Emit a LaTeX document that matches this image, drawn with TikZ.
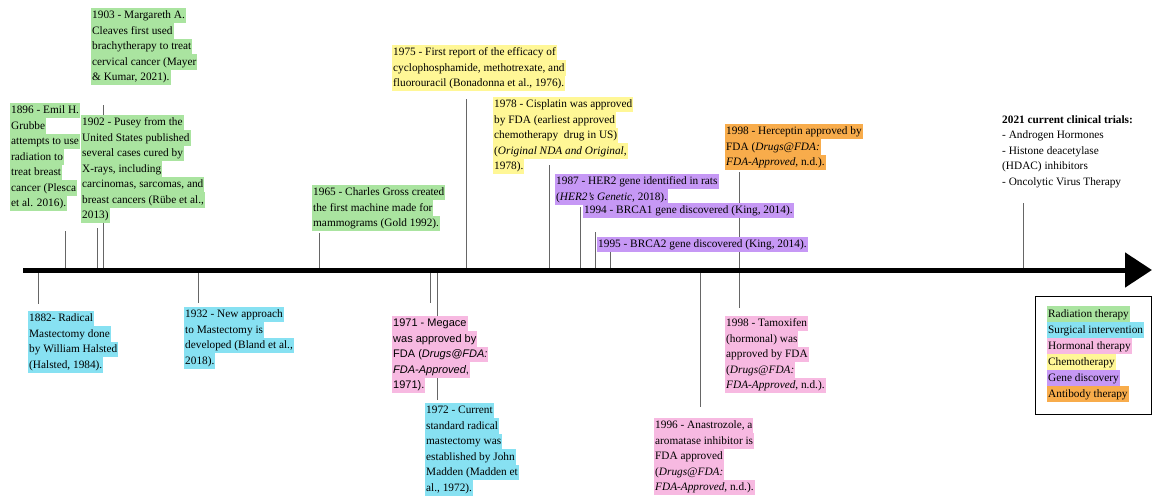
\documentclass[tikz,border=0pt]{standalone}
\usepackage{fontspec}
\setmainfont{Liberation Serif}
\newfontfamily\arialfont{Liberation Sans}
\usetikzlibrary{arrows.meta}

\definecolor{radgreen}{RGB}{170,228,160}
\definecolor{surgcyan}{RGB}{135,225,242}
\definecolor{hormpink}{RGB}{247,185,225}
\definecolor{chemoyellow}{RGB}{255,247,150}
\definecolor{genepurple}{RGB}{198,152,245}
\definecolor{antiorange}{RGB}{248,172,75}

\newcommand{\hilite}[2]{{\setlength{\fboxsep}{0pt}\colorbox{#1}{\rule[-4.6pt]{0pt}{15.5pt}\kern1pt#2\kern1pt}}}
\newcommand{\rad}[1]{\hilite{radgreen}{#1}}
\newcommand{\surg}[1]{\hilite{surgcyan}{#1}}
\newcommand{\horm}[1]{\hilite{hormpink}{#1}}
\newcommand{\chemo}[1]{\hilite{chemoyellow}{#1}}
\newcommand{\gene}[1]{\hilite{genepurple}{#1}}
\newcommand{\anti}[1]{\hilite{antiorange}{#1}}

\begin{document}
\begin{tikzpicture}[x=1pt,y=-1pt,
	tick/.style={draw=black!60,line width=0.8pt},
	event/.style={anchor=north west,inner sep=0pt,align=left,font=\fontsize{11.3}{15.5}\selectfont}]
\useasboundingbox (0,0) rectangle (1154,497);
\begin{scope}
		\coordinate (A1896) at (65,270);
		\coordinate (B1896) at (65,231);
		\coordinate (A1902) at (97,270);
		\coordinate (B1902) at (97,228);
		\coordinate (A1903) at (103,270);
		\coordinate (B1903) at (103,105);
		\coordinate (A1965) at (319,270);
		\coordinate (B1965) at (319,233);
		\coordinate (A1975) at (466,270);
		\coordinate (B1975) at (466,99);
		\coordinate (A1978) at (549,270);
		\coordinate (B1978) at (549,165);
		\coordinate (A1987) at (580,270);
		\coordinate (B1987) at (580,207);
		\coordinate (A1994) at (595,270);
		\coordinate (B1994) at (595,232);
		\coordinate (A1995) at (610,270);
		\coordinate (B1995) at (610,252);
		\coordinate (AHer) at (739,270);
		\coordinate (BHer) at (739,172);
		\coordinate (A2021) at (1023,270);
		\coordinate (B2021) at (1023,203);
		\draw[tick] (A1896) -- (B1896);
		\draw[tick] (A1902) -- (B1902);
		\draw[tick] (A1903) -- (B1903);
		\draw[tick] (A1965) -- (B1965);
		\draw[tick] (A1975) -- (B1975);
		\draw[tick] (A1978) -- (B1978);
		\draw[tick] (A1987) -- (B1987);
		\draw[tick] (A1994) -- (B1994);
		\draw[tick] (A1995) -- (B1995);
		\draw[tick] (AHer) -- (BHer);
		\draw[tick] (A2021) -- (B2021);
		\node[event] (N1903) at (91,7.5) {\rad{1903 - Margareth A.}\\\rad{Cleaves first used}\\\rad{brachytherapy to treat}\\\rad{cervical cancer (Mayer}\\\rad{\& Kumar, 2021).}};
		\node[event] (N1896) at (10,102.5) {\rad{1896 - Emil H.}\\\rad{Grubbe}\\\rad{attempts to use}\\\rad{radiation to}\\\rad{treat breast}\\\rad{cancer (Plesca}\\\rad{et al. 2016).}};
		\node[event] (N1902) at (81,114.5) {\rad{1902 - Pusey from the}\\\rad{United States published}\\\rad{several cases cured by}\\\rad{X-rays, including}\\\rad{carcinomas, sarcomas, and}\\\rad{breast cancers (Rübe et al.,}\\\rad{2013)}};
		\node[event] (N1965) at (312,184.5) {\rad{1965 - Charles Gross created}\\\rad{the first machine made for}\\\rad{mammograms (Gold 1992).}};
		\node[event] (N1975) at (392,44.5) {\chemo{1975 - First report of the efficacy of}\\\chemo{cyclophosphamide, methotrexate, and}\\\chemo{fluorouracil (Bonadonna et al., 1976).}};
		\node[event] (N1978) at (493,96.5) {\chemo{1978 - Cisplatin was approved}\\\chemo{by FDA (earliest approved}\\\chemo{chemotherapy\ \ drug in US)}\\\chemo{(\textit{Original NDA and Original},}\\\chemo{1978).}};
		\node[event] (N1987) at (555,173.5) {\gene{1987 - HER2 gene identified in rats}\\\gene{(\textit{HER2's Genetic}, 2018).}};
		\node[event] (N1994) at (583,202.5) {\gene{1994 - BRCA1 gene discovered (King, 2014).}};
		\node[event] (N1995) at (597,236.5) {\gene{1995 - BRCA2 gene discovered (King, 2014).}};
		\node[event] (NHer) at (725,123.5) {\anti{1998 - Herceptin approved by}\\\anti{FDA (\textit{Drugs@FDA:}}\\\anti{\textit{FDA-Approved}, n.d.).}};
		\node[event] (N2021) at (1002,115) {\textbf{2021 current clinical trials:}\\- Androgen Hormones\\- Histone deacetylase\\(HDAC) inhibitors\\- Oncolytic Virus Therapy};
\end{scope}
\begin{scope}
		\coordinate (A1882) at (38,270);
		\coordinate (B1882) at (38,304);
		\coordinate (A1932) at (198,270);
		\coordinate (B1932) at (198,303);
		\coordinate (A1971) at (430,270);
		\coordinate (B1971) at (430,303);
		\coordinate (A1972) at (437,270);
		\coordinate (B1972) at (437,400);
		\coordinate (A1996) at (700,270);
		\coordinate (B1996) at (700,407);
		\coordinate (ATam) at (739,270);
		\coordinate (BTam) at (739,308);
		\draw[tick] (A1882) -- (B1882);
		\draw[tick] (A1932) -- (B1932);
		\draw[tick] (A1971) -- (B1971);
		\draw[tick] (A1972) -- (B1972);
		\draw[tick] (A1996) -- (B1996);
		\draw[tick] (ATam) -- (BTam);
		\node[event] (N1882) at (28,310.5) {\surg{1882- Radical}\\\surg{Mastectomy done}\\\surg{by William Halsted}\\\surg{(Halsted, 1984).}};
		\node[event] (N1932) at (184,306.5) {\surg{1932 - New approach}\\\surg{to Mastectomy is}\\\surg{developed (Bland et al.,}\\\surg{2018).}};
		\node[event,font=\arialfont\fontsize{11}{15.5}\selectfont] (N1971) at (392,315.5) {\horm{1971 - Megace}\\\horm{was approved by}\\\horm{FDA (\textit{Drugs@FDA:}}\\\horm{\textit{FDA-Approved},}\\\horm{1971).}};
		\node[event] (N1972) at (425,402.5) {\surg{1972 - Current}\\\surg{standard radical}\\\surg{mastectomy was}\\\surg{established by John}\\\surg{Madden (Madden et}\\\surg{al., 1972).}};
		\node[event] (N1996) at (654,417.5) {\horm{1996 - Anastrozole, a}\\\horm{aromatase inhibitor is}\\\horm{FDA approved}\\\horm{(\textit{Drugs@FDA:}}\\\horm{\textit{FDA-Approved}, n.d.).}};
		\node[event] (NTam) at (725,315.5) {\horm{1998 - Tamoxifen}\\\horm{(hormonal) was}\\\horm{approved by FDA}\\\horm{(\textit{Drugs@FDA:}}\\\horm{\textit{FDA-Approved}, n.d.).}};
\end{scope}
		% time axis
		\coordinate (S) at (23,270);
		\coordinate (T) at (1152,270);
		\draw[line width=5pt,-{Triangle[length=27pt,width=34pt]}] (S) -- (T);
		% legend
		\coordinate (L1) at (1035,296);
		\coordinate (L2) at (1151,414);
		\draw[line width=1pt] (L1) rectangle (L2);
		\node[event,font=\fontsize{11.3}{16}\selectfont] (legend) at (1047,306) {\rad{Radiation therapy}\\\surg{Surgical intervention}\\\horm{Hormonal therapy}\\\chemo{Chemotherapy}\\\gene{Gene discovery}\\\anti{Antibody therapy}};
\end{tikzpicture}
\end{document}
